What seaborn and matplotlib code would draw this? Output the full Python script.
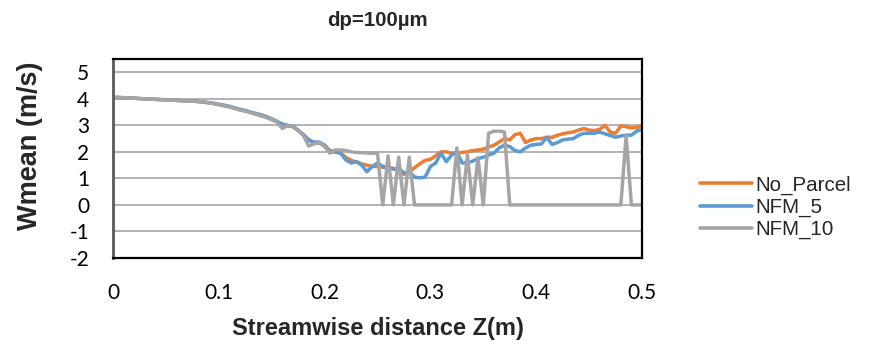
import numpy as np
import pandas as pd
import matplotlib
matplotlib.use("Agg")
import matplotlib.pyplot as plt
import seaborn as sns

# ---- data ----
z = [round(0.005 * i, 3) for i in range(101)]

no_parcel = [4.05, 4.05, 4.04, 4.03, 4.02, 4.01, 4.00, 3.99, 3.98, 3.97,
             3.96, 3.95, 3.94, 3.93, 3.92, 3.91, 3.90, 3.88, 3.85, 3.82,
             3.78, 3.74, 3.70, 3.64, 3.58, 3.54, 3.48, 3.42, 3.36, 3.30,
             3.22, 3.13, 3.02, 2.98, 2.95, 2.80, 2.65, 2.45, 2.35, 2.33,
             2.25, 2.05, 2.00, 1.95, 1.80, 1.68, 1.62, 1.55, 1.50, 1.45,
             1.45, 1.42, 1.40, 1.38, 1.25, 1.15, 1.25, 1.40, 1.55, 1.68,
             1.72, 1.85, 2.00, 2.00, 1.95, 1.95, 1.98, 2.00, 2.05, 2.07,
             2.10, 2.18, 2.25, 2.37, 2.50, 2.45, 2.65, 2.70, 2.35, 2.45,
             2.50, 2.50, 2.55, 2.55, 2.62, 2.68, 2.72, 2.75, 2.82, 2.88,
             2.82, 2.80, 2.85, 3.00, 2.75, 2.70, 2.98, 2.95, 2.90, 2.92,
             2.97]

nfm_5 = [4.05, 4.05, 4.04, 4.03, 4.02, 4.01, 4.00, 3.99, 3.98, 3.97,
         3.96, 3.95, 3.94, 3.93, 3.92, 3.91, 3.90, 3.88, 3.86, 3.83,
         3.80, 3.76, 3.72, 3.66, 3.61, 3.56, 3.50, 3.45, 3.40, 3.33,
         3.25, 3.15, 3.05, 3.00, 2.97, 2.82, 2.65, 2.45, 2.37, 2.37,
         2.25, 1.98, 2.00, 1.95, 1.70, 1.58, 1.63, 1.50, 1.25, 1.45,
         1.58, 1.45, 1.40, 1.35, 1.38, 1.20, 1.25, 1.05, 1.02, 1.05,
         1.45, 1.58, 1.95, 1.63, 1.88, 2.00, 1.58, 1.60, 1.65, 1.75,
         1.80, 1.88, 1.95, 2.15, 2.25, 2.20, 2.05, 2.00, 2.15, 2.25,
         2.28, 2.30, 2.55, 2.28, 2.35, 2.45, 2.48, 2.50, 2.62, 2.70,
         2.70, 2.70, 2.75, 2.68, 2.62, 2.55, 2.60, 2.63, 2.63, 2.78,
         2.85]

nfm_10 = [4.05, 4.05, 4.04, 4.03, 4.02, 4.01, 4.00, 3.99, 3.98, 3.97,
          3.96, 3.95, 3.94, 3.93, 3.92, 3.91, 3.90, 3.88, 3.85, 3.82,
          3.78, 3.74, 3.70, 3.64, 3.58, 3.54, 3.48, 3.42, 3.36, 3.30,
          3.22, 3.13, 2.88, 3.00, 2.95, 2.80, 2.62, 2.22, 2.30, 2.35,
          2.20, 1.95, 2.07, 2.07, 2.05, 2.00, 1.98, 1.97, 1.96, 1.95,
          1.95, 0.00, 1.85, 0.00, 1.80, 0.00, 1.80, 0.00, 0.00, 0.00,
          0.00, 0.00, 0.00, 0.00, 0.00, 2.15, 0.00, 1.88, 0.00, 1.78,
          0.00, 2.70, 2.78, 2.78, 2.75, 0.00, 0.00, 0.00, 0.00, 0.00,
          0.00, 0.00, 0.00, 0.00, 0.00, 0.00, 0.00, 0.00, 0.00, 0.00,
          0.00, 0.00, 0.00, 0.00, 0.00, 0.00, 0.00, 2.60, 0.00, 0.00,
          0.00]

series_names = ["No_Parcel", "NFM_5", "NFM_10"]
colors = ["#ED7D31", "#5B9BD5", "#A5A5A5"]
x_ticks = [0, 0.1, 0.2, 0.3, 0.4, 0.5]
x_tick_labels = ["0", "0.1", "0.2", "0.3", "0.4", "0.5"]
y_ticks = [-2, -1, 0, 1, 2, 3, 4, 5]

df = pd.DataFrame({
    "z": z * 3,
    "w": no_parcel + nfm_5 + nfm_10,
    "series": sum([[n] * len(z) for n in series_names], []),
})

sns.set_theme(style="white")
plt.rcParams["font.family"] = ["Liberation Sans", "DejaVu Sans"]

W, H = 887, 344
fig = plt.figure(figsize=(W / 100, H / 100), dpi=100)
ax = fig.add_axes([113 / W, 1 - 258 / H, (642 - 113) / W, (258 - 59) / H])

sns.lineplot(data=df, x="z", y="w", hue="series", hue_order=series_names,
             palette=colors, sort=False, estimator=None, linewidth=2.5,
             ax=ax, legend=False)

ax.set_xlim(0, 0.5)
ax.set_ylim(-2, 5.5)
ax.set_xticks(x_ticks)
ax.set_xticklabels(x_tick_labels)
ax.set_yticks(y_ticks)
ax.set_yticklabels([str(v) for v in y_ticks])
ax.yaxis.grid(True, color="#A6A6A6", linewidth=1.2)
ax.xaxis.grid(False)
ax.set_axisbelow(True)
ax.tick_params(axis="both", length=0, labelsize=15, colors="black")
ax.tick_params(axis="x", pad=18)
ax.tick_params(axis="y", pad=17)
for lab in ax.get_xticklabels() + ax.get_yticklabels():
    lab.set_fontfamily(["Lato", "DejaVu Sans"])

for side in ["top", "right", "bottom"]:
    ax.spines[side].set_color("black")
    ax.spines[side].set_linewidth(1.6)
ax.spines["left"].set_color("#595959")
ax.spines["left"].set_linewidth(2.0)

ax.set_xlabel("Streamwise distance Z(m)", fontsize=17, fontweight="bold", va="center")
ax.xaxis.set_label_coords(0.5, (258 - 329) / (258 - 59))
ax.set_ylabel("Wmean (m/s)", fontsize=19.5, fontweight="bold", va="center")
ax.yaxis.set_label_coords((30 - 113) / (642 - 113), (258 - 146) / (258 - 59))
fig.text((113 + 642) / 2 / W, 1 - 20 / H, "dp=100µm", ha="center", va="center",
         fontsize=14.7, fontweight="bold")

handles = [plt.Line2D([0], [0], color=c, linewidth=2.6) for c in colors]
fig.legend(handles, series_names, loc="center left",
           bbox_to_anchor=(700 / W, 1 - 207.5 / H), frameon=False,
           fontsize=14.8, handlelength=2.55, handletextpad=0.15,
           labelspacing=0.15, borderaxespad=0, borderpad=0)

fig.savefig("out.png", dpi=100)
